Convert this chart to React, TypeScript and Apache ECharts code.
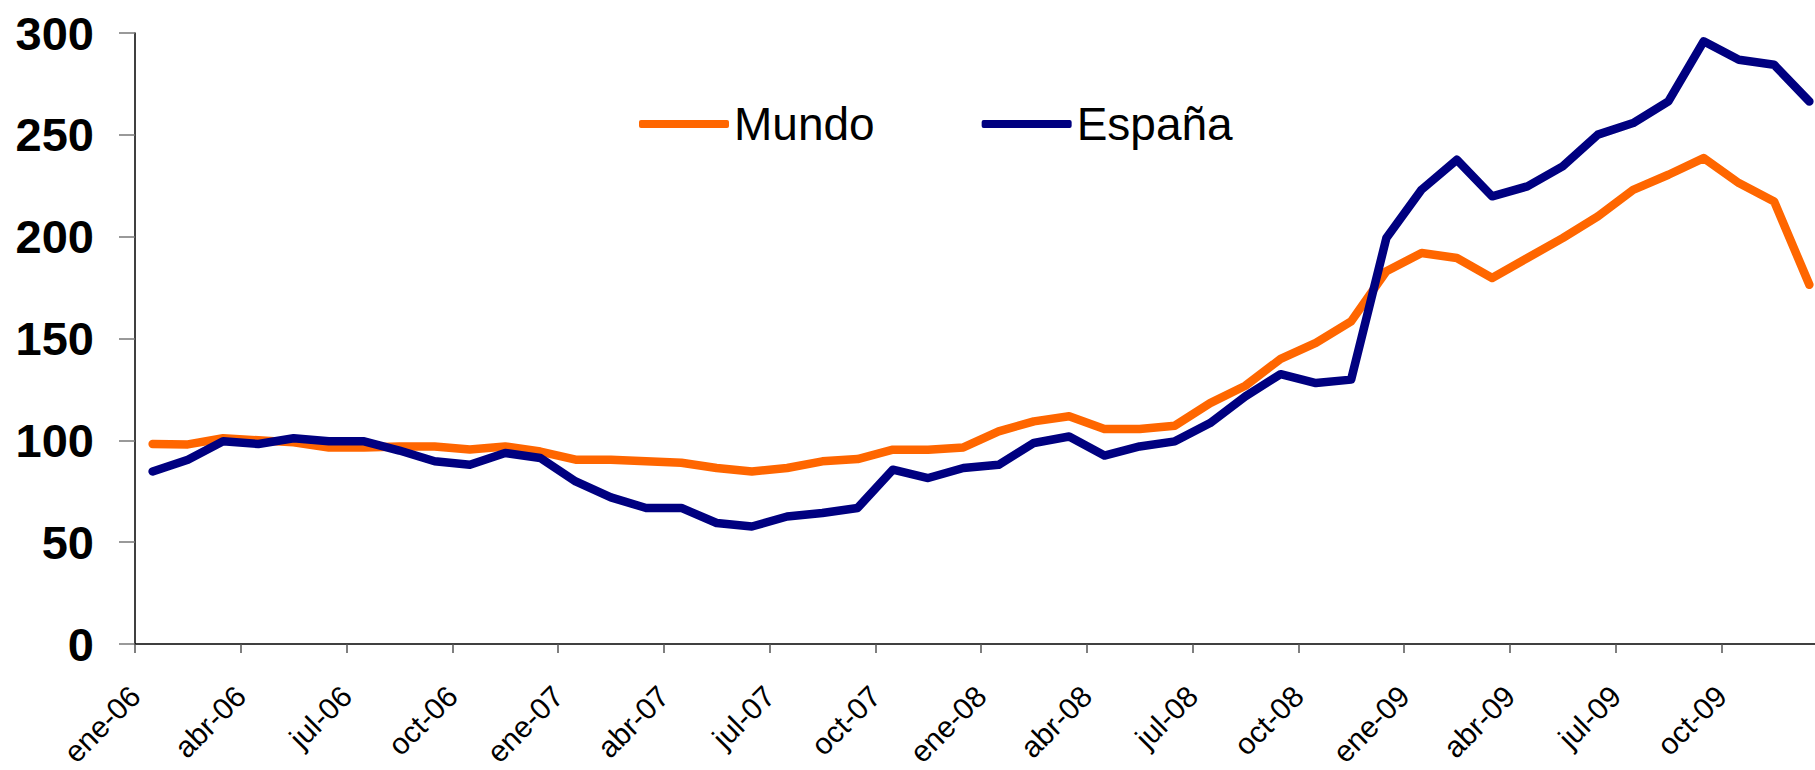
import React, { useEffect, useRef } from "react";
import * as echarts from "echarts";

const months = [
  "ene-06","feb-06","mar-06","abr-06","may-06","jun-06","jul-06","ago-06","sep-06","oct-06","nov-06","dic-06",
  "ene-07","feb-07","mar-07","abr-07","may-07","jun-07","jul-07","ago-07","sep-07","oct-07","nov-07","dic-07",
  "ene-08","feb-08","mar-08","abr-08","may-08","jun-08","jul-08","ago-08","sep-08","oct-08","nov-08","dic-08",
  "ene-09","feb-09","mar-09","abr-09","may-09","jun-09","jul-09","ago-09","sep-09","oct-09","nov-09","dic-09",
];

const mundo = [
  98.2, 98, 101, 100, 99, 96.5, 96.5, 97, 97, 95.5, 97, 94.5,
  90.5, 90.5, 89.7, 89, 86.4, 84.7, 86.4, 89.7, 90.8, 95.4, 95.4, 96.5,
  104.4, 109.3, 111.8, 105.6, 105.6, 107.2, 118.3, 126.8, 140, 147.8, 158.4, 183,
  192, 189.5, 179.7, 189.5, 199.3, 210, 223, 230.4, 238.6, 226.3, 217.3, 176.4,
];

const espana = [
  84.7, 90.5, 99.5, 98.2, 101, 99.5, 99.5, 95, 89.7, 88, 93.8, 91.3,
  79.8, 72, 66.8, 66.8, 59.4, 57.7, 62.6, 64.3, 66.8, 85.6, 81.5, 86.4,
  88, 98.7, 101.9, 92.5, 97, 99.5, 108.5, 121.6, 132.5, 128.1, 129.8, 199.3,
  223.1, 237.8, 219.8, 224.7, 234.5, 250.1, 255.8, 266.4, 295.9, 286.9, 284.4, 266.4,
];

const seriesNames = ["Mundo", "España"];
const yTicks = { min: 0, max: 300, interval: 50 };

const FONT = 'Arial, "Liberation Sans", Helvetica, sans-serif';

export default function App() {
  const ref = useRef<HTMLDivElement>(null);

  useEffect(() => {
    if (!ref.current) return;
    const chart = echarts.init(ref.current, null, { renderer: "svg" });
    const toPoints = (arr: number[]) => arr.map((v, i) => [i + 0.5, v]);
    chart.setOption({
      animation: false,
      backgroundColor: "#ffffff",
      textStyle: { fontFamily: FONT },
      legend: {
        left: 634,
        top: 96,
        itemWidth: 90,
        itemHeight: 8,
        itemGap: 107,
        icon: "roundRect",
        textStyle: { fontSize: 46, color: "#000", fontFamily: FONT, lineHeight: 46 },
        data: seriesNames,
      },
      grid: {
        left: 135,
        top: 33,
        right: -12,
        bottom: 126,
        containLabel: false,
        outerBoundsMode: "none",
      },
      xAxis: {
        type: "value",
        min: 0,
        max: months.length,
        interval: 3,
        axisLine: { show: true, lineStyle: { color: "#000", width: 1.5 } },
        axisTick: { show: true, length: 9, lineStyle: { color: "#555", width: 1.5 } },
        axisLabel: {
          rotate: 45,
          margin: 47,
          fontSize: 30,
          color: "#000",
          fontFamily: FONT,
          formatter: (v: number) => months[v] ?? "",
          showMaxLabel: false,
        },
        splitLine: { show: false },
      },
      yAxis: {
        type: "value",
        min: yTicks.min,
        max: yTicks.max,
        interval: yTicks.interval,
        axisLine: { show: true, lineStyle: { color: "#000", width: 1.5 } },
        axisTick: { show: true, length: 16, lineStyle: { color: "#777", width: 1.5 } },
        axisLabel: {
          margin: 41,
          fontSize: 47,
          fontWeight: "bold",
          color: "#000",
          fontFamily: FONT,
        },
        splitLine: { show: false },
      },
      series: [
        {
          name: seriesNames[0],
          type: "line",
          data: toPoints(mundo),
          symbol: "none",
          color: "#FF6600",
          itemStyle: { color: "#FF6600" },
          lineStyle: { color: "#FF6600", width: 8.5, cap: "round", join: "round" },
          z: 2,
        },
        {
          name: seriesNames[1],
          type: "line",
          data: toPoints(espana),
          symbol: "none",
          color: "#000080",
          itemStyle: { color: "#000080" },
          lineStyle: { color: "#000080", width: 8.5, cap: "round", join: "round" },
          z: 3,
        },
      ],
    });
    return () => chart.dispose();
  }, []);

  return (
    <div
      ref={ref}
      style={{ position: "absolute", left: 0, top: 0, width: 1815, height: 770, background: "#fff" }}
    />
  );
}
